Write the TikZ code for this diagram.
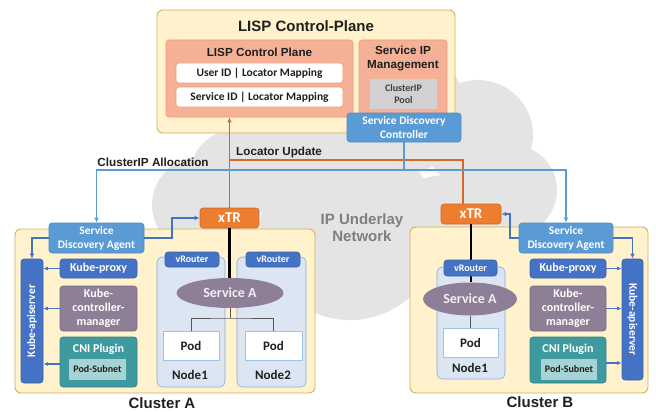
\documentclass[tikz,border=0pt]{standalone}
\usepackage{fontspec}
\setmainfont{Liberation Sans}
\newfontfamily\cb{Carlito}
\usetikzlibrary{arrows.meta,shapes.geometric,calc}

\definecolor{cream}{HTML}{FFF2CC}
\definecolor{creamedge}{HTML}{CFB35C}
\definecolor{salmon}{HTML}{F5B196}
\definecolor{salmonedge}{HTML}{EE9A78}
\definecolor{poolgray}{HTML}{D3D0D3}
\definecolor{sdblue}{HTML}{5B9BD5}
\definecolor{sdedge}{HTML}{4F8CC8}
\definecolor{kblue}{HTML}{4472C4}
\definecolor{xtror}{HTML}{ED7D31}
\definecolor{mauve}{HTML}{8E7E96}
\definecolor{tealA}{HTML}{3E9A9F}
\definecolor{tealL}{HTML}{A6D3D3}
\definecolor{nodebg}{HTML}{DCE6F2}
\definecolor{nodeedge}{HTML}{8FAADC}
\definecolor{podedge}{HTML}{9DC3E6}
\definecolor{cloudg}{HTML}{E4E4E4}
\definecolor{orline}{HTML}{D9652A}
\definecolor{txtgray}{HTML}{7F7F7F}
\definecolor{ink}{HTML}{1F1F1F}

\tikzset{
  box/.style={rectangle, rounded corners=3pt, inner sep=0pt, align=center,
    font=\cb\bfseries\fontsize{11.5}{14}\selectfont},
  panel/.style={rectangle, rounded corners=6pt, fill=cream, draw=creamedge, line width=0.9pt, inner sep=0pt},
  salmonbox/.style={box, fill=salmon, draw=salmonedge, line width=0.6pt},
  mapbox/.style={box, fill=white, draw=salmonedge, line width=0.6pt, text=ink},
  sdbox/.style={box, fill=sdblue, draw=sdedge, line width=0.6pt, text=white},
  kbox/.style={box, fill=kblue, draw=kblue!85!black, line width=0.6pt, text=white},
  kpbox/.style={kbox, font=\cb\bfseries\fontsize{12}{14}\selectfont},
  mbox/.style={box, fill=mauve, draw=mauve!85!black, line width=0.6pt, text=white,
    font=\cb\bfseries\fontsize{12}{14}\selectfont},
  cnibox/.style={box, fill=tealA, draw=tealA!85!black, line width=0.6pt, text=white},
  cnititle/.style={inner sep=0pt, text=white, font=\cb\bfseries\fontsize{12}{14}\selectfont},
  apititle/.style={inner sep=0pt, text=white, font=\cb\bfseries\fontsize{11.5}{13}\selectfont},
  subnet/.style={box, rounded corners=0pt, fill=tealL, text=ink, font=\cb\bfseries\fontsize{10}{11}\selectfont},
  xtrbox/.style={box, fill=xtror, draw=xtror!85!black, line width=0.6pt, text=white,
    font=\cb\bfseries\fontsize{15}{17}\selectfont},
  hostbox/.style={box, rounded corners=5pt, fill=nodebg, draw=nodeedge, line width=0.6pt},
  vrbox/.style={kbox, font=\cb\bfseries\fontsize{10}{11}\selectfont},
  podbox/.style={box, rounded corners=0pt, fill=white, draw=podedge, line width=0.8pt, text=ink,
    font=\cb\bfseries\fontsize{13}{15}\selectfont},
  svc/.style={ellipse, inner sep=0pt, fill=mauve, text=white!88!mauve,
    font=\cb\bfseries\fontsize{14}{16}\selectfont},
  lbl/.style={inner sep=0pt, text=ink, font=\cb\bfseries\fontsize{13}{15}\selectfont},
  head/.style={inner sep=0pt, align=center, text=ink, font=\bfseries\fontsize{11.7}{14}\selectfont},
  big/.style={inner sep=0pt, text=ink, font=\bfseries\fontsize{15}{18}\selectfont},
  tip/.style={-{Latex[length=5pt,width=4.5pt]}},
  oline/.style={draw=orline, line width=1.8pt},
  bline/.style={draw=sdblue, line width=1.3pt},
  kline/.style={draw=kblue, line width=1.3pt},
  feed/.style={draw=kblue, line width=1.1pt, -{Latex[length=4.5pt,width=4pt]}},
  trunk/.style={draw=black, line width=2.6pt},
  twig/.style={draw=black!65, line width=0.6pt},
}

\begin{document}
\begin{tikzpicture}[x=1pt, y=-1pt]
\useasboundingbox (0,0) rectangle (656,412);
\fill[white] (0,0) rectangle (656,412);

% underlay cloud
\fill[cloudg]
  (200,205) circle (48pt)
  (235,175) circle (45pt)
  (300,125) circle (70pt)
  (400,110) circle (65pt)
  (478,135) circle (55pt)
  (512,190) circle (45pt)
  (350,230) circle (90pt)
  (445,235) circle (60pt);
\node[inner sep=0pt, align=center, text=txtgray, font=\bfseries\fontsize{15}{17}\selectfont]
  (ipnet) at (362,228) {IP Underlay\\Network};

% control plane
\node[panel, minimum width=298pt, minimum height=123pt] (top) at (306,71.5) {};
\node[big] (toptitle) at (306,26) {LISP Control-Plane};
\node[salmonbox, minimum width=187pt, minimum height=77pt] (cp) at (259.5,78.5) {};
\node[head] (cptitle) at (259.5,52) {LISP Control Plane};
\node[mapbox, minimum width=167pt, minimum height=20pt] (uid) at (259.5,73) {User ID | Locator Mapping};
\node[mapbox, minimum width=167pt, minimum height=20pt] (sid) at (259.5,97) {Service ID | Locator Mapping};
\node[salmonbox, minimum width=88pt, minimum height=77pt] (sipm) at (403,78.5) {};
\node[head] (sipmtitle) at (403,59) {Service IP\\Management};
\node[box, rounded corners=0pt, fill=poolgray, text=black!75, minimum width=67pt, minimum height=30pt,
  font=\cb\bfseries\fontsize{10}{12.5}\selectfont] (pool) at (403.5,94) {ClusterIP\\Pool};
\node[sdbox, minimum width=114pt, minimum height=29pt] (sdc) at (404,127.5) {Service Discovery\\Controller};

% cluster A
\node[panel, minimum width=300pt, minimum height=164pt] (clA) at (165,311) {};
\node[big] (clAname) at (162,403) {Cluster A};
\node[sdbox, minimum width=95pt, minimum height=30pt] (sdaA) at (96.5,238) {Service\\Discovery Agent};
\node[kbox, minimum width=22pt, minimum height=124pt] (apiA) at (32,321) {};
\node[apititle, rotate=90] at (apiA) {Kube-apiserver};
\node[kpbox, minimum width=77pt, minimum height=19pt] (kpA) at (98.5,268.5) {Kube-proxy};
\node[mbox, minimum width=77pt, minimum height=45pt] (kcmA) at (98.5,308.5) {Kube-\\controller-\\manager};
\node[cnibox, minimum width=77pt, minimum height=50pt] (cniA) at (98.5,362) {};
\node[cnititle] at (98.5,349) {CNI Plugin};
\node[subnet, minimum width=57pt, minimum height=21pt] (psA) at (97.5,369.5) {Pod-Subnet};
\node[hostbox, minimum width=68pt, minimum height=130pt] (n1A) at (191,322) {};
\node[hostbox, minimum width=69pt, minimum height=130pt] (n2A) at (271.5,322) {};
\node[vrbox, minimum width=54pt, minimum height=15pt] (vrA1) at (192,259.5) {vRouter};
\node[vrbox, minimum width=54pt, minimum height=15pt] (vrA2) at (273,259.5) {vRouter};
\node[podbox, minimum width=56pt, minimum height=29pt] (podA1) at (191,345.5) {Pod};
\node[podbox, minimum width=57pt, minimum height=29pt] (podA2) at (273.5,345.5) {Pod};
\node[lbl] (n1Aname) at (190,375) {Node1};
\node[lbl] (n2Aname) at (273,375) {Node2};
\node[svc, minimum width=107pt, minimum height=30pt] (svcA) at (230,293) {Service A};
\node[xtrbox, minimum width=59pt, minimum height=20pt] (xtrA) at (229.5,218) {xTR};

% cluster B
\node[panel, minimum width=238pt, minimum height=166pt] (clB) at (529,310) {};
\node[big] (clBname) at (540,402) {Cluster B};
\node[sdbox, minimum width=94pt, minimum height=30pt] (sdaB) at (566,238) {Service\\Discovery Agent};
\node[kbox, minimum width=21pt, minimum height=121pt] (apiB) at (632.5,319.5) {};
\node[apititle, rotate=-90] at (apiB) {Kube-apiserver};
\node[kpbox, minimum width=76pt, minimum height=19pt] (kpB) at (568,268.5) {Kube-proxy};
\node[mbox, minimum width=76pt, minimum height=45pt] (kcmB) at (568,308.5) {Kube-\\controller-\\manager};
\node[cnibox, minimum width=76pt, minimum height=46pt] (cniB) at (568,360) {};
\node[cnititle] at (568,349) {CNI Plugin};
\node[subnet, minimum width=56pt, minimum height=21pt] (psB) at (569,369.5) {Pod-Subnet};
\node[hostbox, minimum width=68pt, minimum height=112pt] (n1B) at (471,323) {};
\node[podbox, minimum width=55pt, minimum height=29pt] (podB) at (470.5,342.5) {Pod};
\node[lbl] (n1Bname) at (470,368) {Node1};
\node[svc, minimum width=94pt, minimum height=33pt] (svcB) at (470,299) {Service A};
\node[xtrbox, minimum width=60pt, minimum height=20pt] (xtrB) at (471,214) {xTR};

% data path inside the clusters
\draw[trunk] (xtrA.south) -- (xtrA.south |- svcA.north);
\draw[twig] (svcA.south) -- (230,318);
\draw[twig] (podA1.north) |- (230,318) -| (podA2.north);
\draw[trunk] (xtrB.south) -- (xtrB.south |- svcB.north);
\draw[twig] (svcB.south) -- (svcB.south |- podB.north);
\node[vrbox, minimum width=53pt, minimum height=16pt] (vrB) at (470.5,268) {vRouter};

% locator updates
\coordinate (lu) at (230,160);
\coordinate (xb) at ($(xtrB.north)+(-8,0)$);
\draw[oline, tip] (xtrA.north) -- (xtrA.north |- cp.south);
\draw[oline] (xb) |- (lu);
\node[inner sep=0pt, text=ink, anchor=west, font=\bfseries\fontsize{11.7}{14}\selectfont] (lulbl) at (236,152) {Locator Update};

% ClusterIP allocation
\coordinate (ca) at (404,170);
\draw[bline] (sdc.south) -- (ca);
\draw[bline, tip] (ca) -| (sdaA.north);
\draw[bline, tip] (ca) -| (sdaB.north);
\node[inner sep=0pt, text=ink, font=\bfseries\fontsize{11.7}{14}\selectfont] (calbl) at (153,162) {ClusterIP Allocation};

% agents towards xTR and apiserver
\coordinate (ja) at (172,238);
\coordinate (jb) at (510,238);
\draw[kline, tip] (sdaA.east) -- (ja) |- (xtrA.west);
\draw[kline, tip] (sdaA.west) -| (apiA.north);
\draw[kline, tip] (sdaB.west) -- (jb) |- (xtrB.east);
\draw[kline, tip] (sdaB.east) -| (apiB.north);

% components reporting to the apiserver
\draw[feed] (kpA.west) -- (kpA.west -| apiA.east);
\draw[feed] (kcmA.west) -- (kcmA.west -| apiA.east);
\draw[feed] ([yshift=-2pt]cniA.west) -- ([yshift=-2pt]cniA.west -| apiA.east);
\draw[feed] (kpB.east) -- (kpB.east -| apiB.west);
\draw[feed] (kcmB.east) -- (kcmB.east -| apiB.west);
\draw[feed] ([yshift=-3pt]cniB.east) -- ([yshift=-3pt]cniB.east -| apiB.west);
\end{tikzpicture}
\end{document}
